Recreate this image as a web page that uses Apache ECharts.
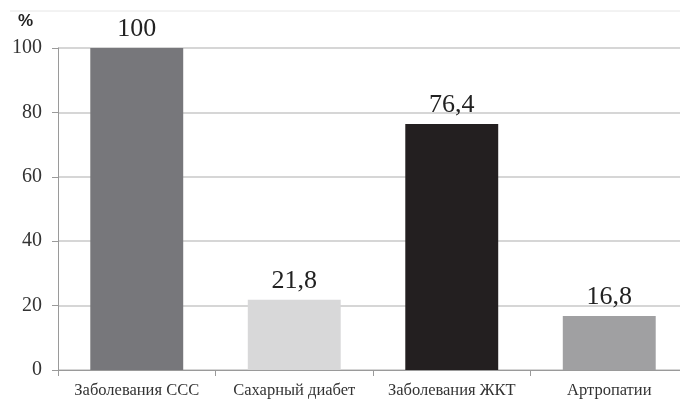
<!DOCTYPE html>
<html>
<head>
<meta charset="utf-8">
<script src="https://cdn.jsdelivr.net/npm/echarts@6/dist/echarts.min.js"></script>
<style>
  html, body { margin: 0; padding: 0; background: #fff; overflow: hidden; }
  /* холст чуть шире окна: правый край графика в оригинале обрезан */
  #chart { width: 688px; height: 401px; }
</style>
</head>
<body>
<div id="chart"></div>
<script>
// категории и значения (%)
const categories = ['Заболевания ССС', 'Сахарный диабет', 'Заболевания ЖКТ', 'Артропатии'];
const values = [100, 21.8, 76.4, 16.8];
const barColors = ['#77777b', '#d8d8d9', '#231f20', '#a0a0a2'];
const yTicks = [0, 20, 40, 60, 80, 100];

const chart = echarts.init(document.getElementById('chart'));

const option = {
    animation: false,
    grid: { left: 58, right: 0, top: 48, bottom: 31, containLabel: false },
    xAxis: {
        type: 'category',
        data: categories,
        axisLine: { lineStyle: { color: '#9a9a9a', width: 1 } },
        axisTick: { show: true, length: 6, lineStyle: { color: '#9a9a9a' } },
        axisLabel: {
            interval: 0,
            color: '#333',
            fontFamily: 'Liberation Serif',
            fontSize: 16.5,
            margin: 12
        }
    },
    yAxis: {
        type: 'value',
        min: yTicks[0],
        max: yTicks[yTicks.length - 1],
        interval: 20,
        axisLine: { show: true, lineStyle: { color: '#9a9a9a', width: 1 } },
        axisTick: { show: true, length: 6, lineStyle: { color: '#9a9a9a' } },
        splitLine: { lineStyle: { color: '#c9c9c9', width: 1.5 } },
        axisLabel: {
            color: '#333',
            fontFamily: 'Liberation Serif',
            fontSize: 20,
            margin: 16
        }
    },
    series: [{
        type: 'bar',
        barWidth: '59%',
        data: values.map((v, i) => ({
            value: v,
            itemStyle: { color: barColors[i] }
        })),
        label: {
            show: true,
            position: 'top',
            distance: 6,
            color: '#222',
            fontFamily: 'Liberation Serif',
            fontSize: 26,
            formatter: (p) => String(p.value).replace('.', ',')
        }
    }],
    graphic: [
        {
            type: 'text',
            left: 18,
            top: 13,
            style: { text: '%', fill: '#222', font: 'bold 17px "Liberation Sans"' }
        },
        {
            type: 'line',
            shape: { x1: 10, y1: 11, x2: 688, y2: 11 },
            style: { stroke: '#e6e6e6', lineWidth: 1 }
        }
    ]
};

chart.setOption(option);
</script>
</body>
</html>
